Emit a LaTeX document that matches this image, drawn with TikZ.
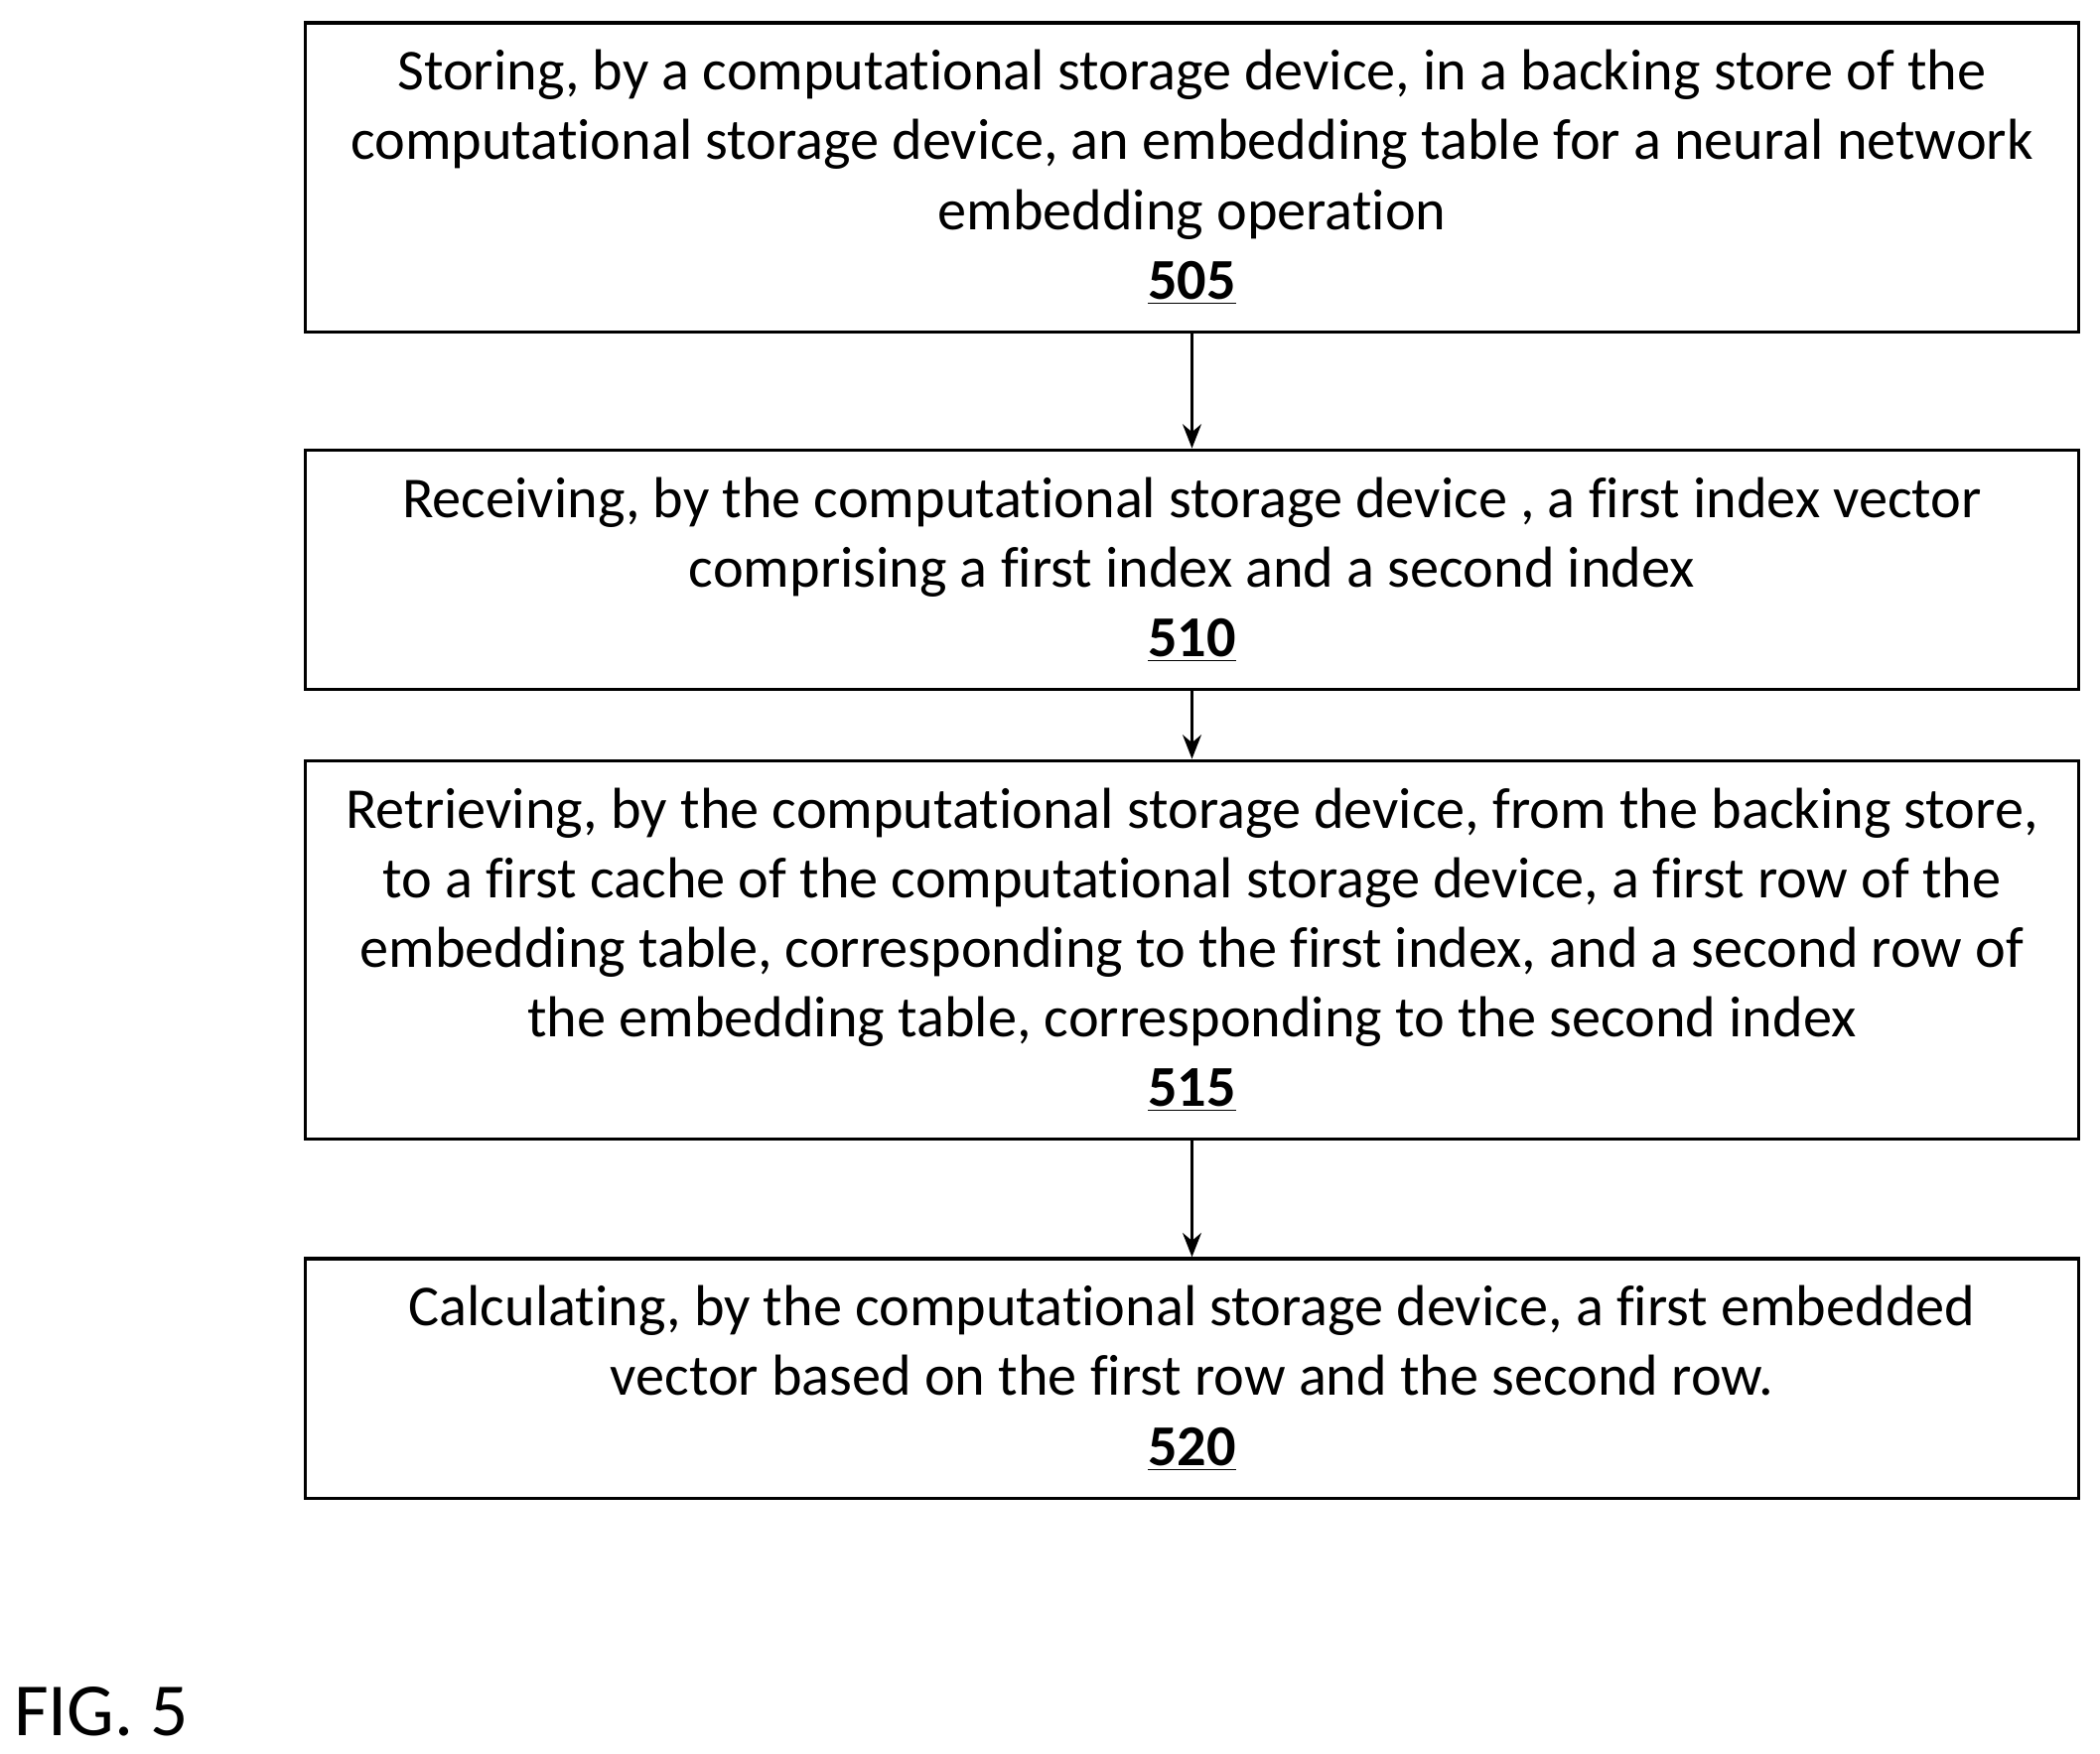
\documentclass[tikz,border=0pt]{standalone}
\usepackage{fontspec}
\setmainfont{Carlito}[Ligatures=NoCommon]
\usetikzlibrary{arrows.meta}
\begin{document}
\begin{tikzpicture}[x=1pt,y=-1pt,
  stepbox/.style={draw,line width=1.2pt,minimum width=662pt,align=center,inner sep=0pt,font=\fontsize{21.6}{26}\selectfont},
  conn/.style={line width=1.1pt,-{Stealth[length=9pt,width=7pt]}}]
\useasboundingbox (0,0) rectangle (784,655);
\node[stepbox,minimum height=115.5pt] (s505) at (445,132.5/2) {Storing, by a computational storage device, in a backing store of the\\computational storage device, an embedding table for a neural network\\embedding operation\\\underline{\textbf{505}}};
\node[stepbox,minimum height=89.5pt] (s510) at (445,425.5/2) {Receiving, by the computational storage device , a first index vector\\comprising a first index and a second index\\\underline{\textbf{510}}};
\node[stepbox,minimum height=141.5pt] (s515) at (445,709.5/2) {Retrieving, by the computational storage device, from the backing store,\\to a first cache of the computational storage device, a first row of the\\embedding table, corresponding to the first index, and a second row of\\the embedding table, corresponding to the second index\\\underline{\textbf{515}}};
\node[stepbox,minimum height=89.5pt] (s520) at (445,1029.5/2) {Calculating, by the computational storage device, a first embedded\\vector based on the first row and the second row.\\\underline{\textbf{520}}};
\draw[conn] (s505) -- (s510);
\draw[conn] (s510) -- (s515);
\draw[conn] (s515) -- (s520);
\node[anchor=west,font=\fontsize{28}{32}\selectfont,inner sep=0pt] (fig) at (5,639) {FIG. 5};
\end{tikzpicture}
\end{document}
